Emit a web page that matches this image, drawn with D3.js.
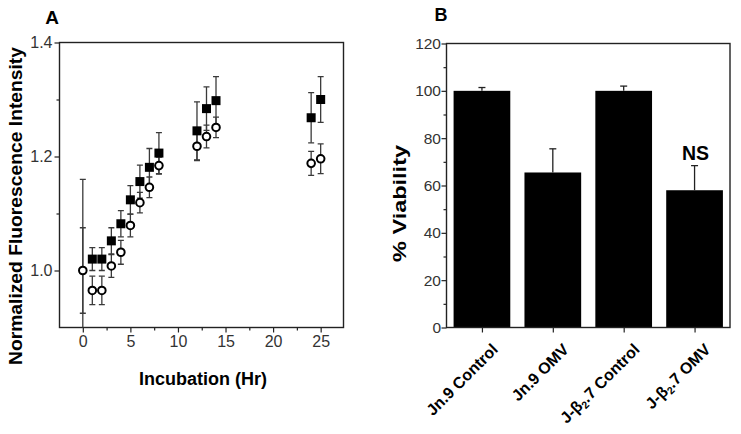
<!DOCTYPE html>
<html><head><meta charset="utf-8">
<script src="https://cdn.jsdelivr.net/npm/d3@7"></script>
<style>
body{margin:0;background:#fff;}
svg{display:block;font-family:"Liberation Sans",Arial,sans-serif;}
</style></head>
<body>
<svg id="chart" width="741" height="434"></svg>
<script>
// ---- Panel A data ----
const hours = [0,1,2,3,4,5,6,7,8,12,13,14,24,25];
const squareMean = [1.000,1.020,1.020,1.052,1.082,1.124,1.156,1.181,1.206,1.245,1.284,1.298,1.268,1.300];
const squareErr  = [0.160,0.020,0.020,0.023,0.023,0.025,0.029,0.033,0.036,0.051,0.038,0.042,0.044,0.040];
const circleMean = [1.000,0.965,0.965,1.008,1.032,1.079,1.119,1.146,1.184,1.218,1.235,1.251,1.188,1.196];
const circleErr  = [0.075,0.025,0.025,0.020,0.021,0.020,0.018,0.018,0.015,0.025,0.020,0.018,0.021,0.026];
const xTicksA = [0,5,10,15,20,25];
const yTicksA = [1.0,1.2,1.4];

// ---- Panel B data ----
const groups = ["Jn.9 Control","Jn.9 OMV","J-β2.7 Control","J-β2.7 OMV"];
const viability = [100,65.5,100,58];
const viabilityErr = [1.4,10,2,10.4];
const yTicksB = [0,20,40,60,80,100,120];

const svg = d3.select("#chart");
const axisColor = "#222";
const tickColor = "#333";

// ================= Panel A =================
const A = {l:59.5, r:343.5, t:42.5, b:327.5};
const xA = d3.scaleLinear().domain([-2.45,27.4]).range([A.l,A.r]);
const yA = d3.scaleLinear().domain([0.9,1.4]).range([A.b,A.t]);
const gA = svg.append("g");

gA.append("clipPath").attr("id","clipA").append("rect")
  .attr("x",A.l).attr("y",A.t).attr("width",A.r-A.l).attr("height",A.b-A.t);

const xAxisA = d3.axisBottom(xA).tickValues(xTicksA).tickSize(5).tickFormat(d3.format("d"));
const xAxisAminor = d3.axisBottom(xA).tickValues([2.5,7.5,12.5,17.5,22.5]).tickSize(3).tickFormat("");
const yAxisA = d3.axisLeft(yA).tickValues(yTicksA).tickSize(5).tickFormat(d3.format(".1f"));
const yAxisAminor = d3.axisLeft(yA).tickValues([1.1,1.3]).tickSize(3).tickFormat("");

function styleAxis(g, fs){
  g.select(".domain").remove();
  g.selectAll(".tick line").attr("stroke",axisColor).attr("stroke-width",1.2);
  g.selectAll(".tick text").attr("fill",tickColor).style("font-size",(fs||16)+"px");
}
gA.append("g").attr("transform",`translate(0,${A.b})`).call(xAxisA).call(styleAxis,16);
gA.append("g").attr("transform",`translate(0,${A.b})`).call(xAxisAminor).call(styleAxis);
gA.append("g").attr("transform",`translate(${A.l},0)`).call(yAxisA).call(styleAxis,16)
  .selectAll(".tick text").attr("x",-7);
gA.append("g").attr("transform",`translate(${A.l},0)`).call(yAxisAminor).call(styleAxis);

gA.append("rect").attr("x",A.l).attr("y",A.t).attr("width",A.r-A.l).attr("height",A.b-A.t)
  .attr("fill","none").attr("stroke",axisColor).attr("stroke-width",1.4);

const ptsSq = hours.map((h,i)=>({x:h,y:squareMean[i],e:squareErr[i]}));
const ptsCi = hours.map((h,i)=>({x:h,y:circleMean[i],e:circleErr[i]}));
const plotA = gA.append("g").attr("clip-path","url(#clipA)");

function errBars(g,pts){
  const eg = g.append("g").attr("stroke","#3a3a3a").attr("stroke-width",1.3);
  pts.forEach(p=>{
    const x=xA(p.x), y1=yA(p.y+p.e), y0=yA(p.y-p.e);
    eg.append("line").attr("x1",x).attr("x2",x).attr("y1",y1).attr("y2",y0);
    eg.append("line").attr("x1",x-3).attr("x2",x+3).attr("y1",y1).attr("y2",y1);
    eg.append("line").attr("x1",x-3).attr("x2",x+3).attr("y1",y0).attr("y2",y0);
  });
}
errBars(plotA,ptsSq);
errBars(plotA,ptsCi);
// the square at t=0 sits hidden under the open circle in the original
plotA.append("g").selectAll("rect").data(ptsSq.filter(d=>d.x>0)).join("rect")
  .attr("x",d=>xA(d.x)-4.5).attr("y",d=>yA(d.y)-4.5).attr("width",9).attr("height",9)
  .attr("fill","#000");
plotA.append("g").selectAll("circle").data(ptsCi).join("circle")
  .attr("cx",d=>xA(d.x)).attr("cy",d=>yA(d.y)).attr("r",3.8)
  .attr("fill","#fff").attr("stroke","#000").attr("stroke-width",2);

gA.append("text").attr("x",52).attr("y",24).attr("text-anchor","middle")
  .style("font-size","19px").style("font-weight","bold").text("A");
gA.append("text").attr("transform",`translate(21.5,206) rotate(-90)`)
  .attr("text-anchor","middle").style("font-size","18px").style("font-weight","bold")
  .attr("textLength",318).attr("lengthAdjust","spacingAndGlyphs")
  .text("Normalized Fluorescence Intensity");
gA.append("text").attr("x",203).attr("y",385).attr("text-anchor","middle")
  .style("font-size","18px").style("font-weight","bold").text("Incubation (Hr)");

// ================= Panel B =================
const B = {l:446.5, r:730, t:43.5, b:327.5};
const xB = d3.scaleLinear().domain([0.5,4.5]).range([B.l,B.r]);
const yB = d3.scaleLinear().domain([0,120]).range([B.b,B.t]);
const gB = svg.append("g");
const step = xB(2)-xB(1), bw = step*0.8;

gB.append("g").selectAll("rect").data(viability).join("rect")
  .attr("x",(d,i)=>xB(i+1)-bw/2).attr("y",d=>yB(d)).attr("width",bw).attr("height",d=>yB(0)-yB(d))
  .attr("fill","#000");
const ebB = gB.append("g").attr("stroke","#222").attr("stroke-width",1.3);
viability.forEach((v,i)=>{
  const x=xB(i+1), y1=yB(v+viabilityErr[i]);
  ebB.append("line").attr("x1",x).attr("x2",x).attr("y1",yB(v)).attr("y2",y1);
  ebB.append("line").attr("x1",x-3.5).attr("x2",x+3.5).attr("y1",y1).attr("y2",y1);
});

const yAxisB = d3.axisLeft(yB).tickValues(yTicksB).tickSize(5);
const yAxisBminor = d3.axisLeft(yB).tickValues(d3.range(10,120,20)).tickSize(3).tickFormat("");
gB.append("g").attr("transform",`translate(${B.l},0)`).call(yAxisB).call(styleAxis,15.5)
  .selectAll(".tick text").attr("x",-5.5);
gB.append("g").attr("transform",`translate(${B.l},0)`).call(yAxisBminor).call(styleAxis);
const xAxisB = d3.axisBottom(xB).tickValues([1,2,3,4]).tickSize(5).tickFormat("");
gB.append("g").attr("transform",`translate(0,${B.b})`).call(xAxisB).call(styleAxis);

gB.append("rect").attr("x",B.l).attr("y",B.t).attr("width",B.r-B.l).attr("height",B.b-B.t)
  .attr("fill","none").attr("stroke",axisColor).attr("stroke-width",1.4);

groups.forEach((g,i)=>{
  const t = gB.append("text")
    .attr("transform",`translate(${xB(i+1)+13},${B.b+19}) rotate(-45)`)
    .attr("text-anchor","end").attr("dy","0.35em")
    .style("font-size","16px").style("font-weight","bold");
  const k = g.indexOf("β2");
  if(k>=0){
    t.append("tspan").text(g.slice(0,k+1));
    t.append("tspan").attr("baseline-shift","-30%").style("font-size","10.5px").text("2");
    t.append("tspan").text(g.slice(k+2));
  } else t.text(g);
});

gB.append("text").attr("x",xB(4)+1).attr("y",159.5)
  .attr("text-anchor","middle").style("font-size","19.5px").style("font-weight","bold").text("NS");
gB.append("text").attr("x",441).attr("y",21).attr("text-anchor","middle")
  .style("font-size","18px").style("font-weight","bold").text("B");
gB.append("text").attr("transform",`translate(405.5,203.5) rotate(-90)`)
  .attr("text-anchor","middle").style("font-size","19px").style("font-weight","bold")
  .attr("textLength",117).attr("lengthAdjust","spacingAndGlyphs")
  .text("% Viability");
</script>
</body></html>
